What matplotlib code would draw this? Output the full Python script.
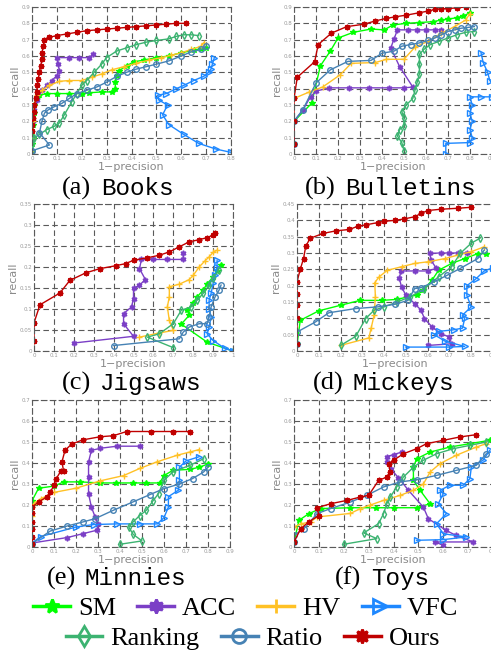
import numpy as np
import matplotlib
matplotlib.use('Agg')
import matplotlib.pyplot as plt
from matplotlib.lines import Line2D
from matplotlib.ticker import FuncFormatter

# (1-precision, recall) points

# (a) Books
books_sm = [(0, 0.02), (0, 0.06), (0.005, 0.10), (0.005, 0.18), (0.01, 0.25), (0.01, 0.30), (0.02, 0.34), (0.03, 0.36),
            (0.06, 0.37), (0.10, 0.37), (0.15, 0.37), (0.20, 0.37), (0.23, 0.375), (0.28, 0.38), (0.32, 0.38),
            (0.335, 0.40), (0.335, 0.44), (0.34, 0.48), (0.35, 0.51), (0.38, 0.54), (0.41, 0.565), (0.45, 0.575),
            (0.50, 0.59), (0.55, 0.60), (0.60, 0.62), (0.65, 0.635), (0.68, 0.645), (0.70, 0.65)]
books_acc = [(0, 0.02), (0, 0.10), (0.005, 0.20), (0.01, 0.27), (0.02, 0.33), (0.04, 0.39), (0.06, 0.42), (0.08, 0.45),
             (0.10, 0.48), (0.11, 0.51), (0.105, 0.55), (0.10, 0.59), (0.15, 0.59), (0.19, 0.59), (0.23, 0.59),
             (0.245, 0.61)]
books_hv = [(0, 0.02), (0, 0.10), (0.005, 0.20), (0.01, 0.30), (0.02, 0.36), (0.04, 0.39), (0.07, 0.42), (0.11, 0.445),
            (0.15, 0.45), (0.20, 0.45), (0.24, 0.47), (0.28, 0.49), (0.32, 0.515), (0.37, 0.535), (0.42, 0.555),
            (0.47, 0.575), (0.52, 0.59), (0.56, 0.605), (0.60, 0.62), (0.64, 0.64), (0.68, 0.66), (0.69, 0.68)]
books_vfc = [(0.80, 0.01), (0.74, 0.03), (0.67, 0.065), (0.61, 0.12), (0.55, 0.18), (0.525, 0.24), (0.545, 0.30),
             (0.51, 0.33), (0.505, 0.36), (0.54, 0.37), (0.58, 0.40), (0.61, 0.42), (0.65, 0.45), (0.69, 0.475),
             (0.71, 0.50), (0.72, 0.52), (0.725, 0.55), (0.733, 0.59)]
books_ranking = [(0, 0.02), (0, 0.06), (0.01, 0.10), (0.03, 0.12), (0.06, 0.15), (0.09, 0.17), (0.11, 0.19),
                 (0.13, 0.24), (0.16, 0.32), (0.18, 0.37), (0.20, 0.42), (0.22, 0.45), (0.25, 0.50), (0.28, 0.55),
                 (0.30, 0.59), (0.34, 0.63), (0.38, 0.65), (0.42, 0.67), (0.46, 0.685), (0.50, 0.695), (0.55, 0.705),
                 (0.58, 0.72), (0.61, 0.73), (0.64, 0.73), (0.67, 0.725)]
books_ratio = [(0, 0.02), (0.07, 0.055), (0.03, 0.13), (0.04, 0.20), (0.05, 0.25), (0.065, 0.27), (0.09, 0.29),
               (0.12, 0.31), (0.15, 0.34), (0.18, 0.37), (0.22, 0.39), (0.26, 0.41), (0.30, 0.44), (0.34, 0.475),
               (0.38, 0.50), (0.42, 0.52), (0.46, 0.535), (0.50, 0.55), (0.55, 0.57), (0.60, 0.60), (0.64, 0.625),
               (0.68, 0.64), (0.70, 0.66)]
books_ours = [(0, 0.14), (0, 0.18), (0.005, 0.22), (0.01, 0.26), (0.01, 0.30), (0.015, 0.34), (0.02, 0.38),
              (0.02, 0.42), (0.025, 0.46), (0.03, 0.50), (0.035, 0.54), (0.04, 0.58), (0.04, 0.62), (0.045, 0.66),
              (0.05, 0.70), (0.07, 0.715), (0.10, 0.725), (0.14, 0.735), (0.18, 0.745), (0.22, 0.755), (0.26, 0.76),
              (0.30, 0.765), (0.34, 0.77), (0.38, 0.775), (0.42, 0.78), (0.46, 0.785), (0.50, 0.79), (0.54, 0.795),
              (0.58, 0.80), (0.62, 0.80)]

# (b) Bulletins
bull_sm = [(0, 0.06), (0, 0.20), (0.08, 0.31), (0.12, 0.54), (0.165, 0.63), (0.20, 0.71), (0.27, 0.745), (0.35, 0.765),
           (0.41, 0.76), (0.45, 0.79), (0.51, 0.80), (0.57, 0.805), (0.63, 0.81), (0.67, 0.82), (0.70, 0.825),
           (0.74, 0.835), (0.77, 0.845), (0.80, 0.865)]
bull_acc = [(0, 0.06), (0, 0.20), (0.04, 0.27), (0.075, 0.35), (0.10, 0.385), (0.16, 0.405), (0.25, 0.405),
            (0.34, 0.405), (0.43, 0.405), (0.50, 0.405), (0.54, 0.41), (0.48, 0.535), (0.44, 0.65), (0.455, 0.705),
            (0.47, 0.76), (0.52, 0.76), (0.56, 0.76), (0.60, 0.76), (0.64, 0.76), (0.67, 0.76)]
bull_hv = [(0, 0.34), (0.07, 0.38), (0.13, 0.41), (0.21, 0.485), (0.26, 0.555), (0.37, 0.56), (0.42, 0.58),
           (0.50, 0.58), (0.55, 0.655), (0.61, 0.69), (0.67, 0.74), (0.73, 0.78), (0.78, 0.82), (0.80, 0.86)]
bull_vfc = [(0.69, 0.0), (0.69, 0.065), (0.80, 0.07), (0.81, 0.10), (0.80, 0.15), (0.81, 0.20), (0.80, 0.25),
            (0.81, 0.30), (0.80, 0.35), (0.85, 0.35), (0.90, 0.35), (0.95, 0.36), (0.92, 0.40), (0.89, 0.45),
            (0.88, 0.50), (0.86, 0.56), (0.85, 0.62)]
bull_ranking = [(0.50, 0.02), (0.49, 0.07), (0.47, 0.11), (0.48, 0.15), (0.50, 0.17), (0.50, 0.22), (0.49, 0.26),
                (0.51, 0.30), (0.54, 0.34), (0.55, 0.39), (0.56, 0.44), (0.57, 0.49), (0.57, 0.55), (0.57, 0.61),
                (0.59, 0.64), (0.62, 0.67), (0.66, 0.69), (0.70, 0.71), (0.74, 0.73), (0.78, 0.745), (0.82, 0.75)]
bull_ratio = [(0, 0.06), (0, 0.20), (0.04, 0.27), (0.10, 0.435), (0.165, 0.515), (0.245, 0.567), (0.35, 0.573),
              (0.40, 0.617), (0.455, 0.63), (0.49, 0.66), (0.53, 0.67), (0.57, 0.68), (0.61, 0.695), (0.64, 0.71),
              (0.67, 0.73), (0.70, 0.75), (0.73, 0.76), (0.76, 0.77), (0.79, 0.775), (0.82, 0.78)]
bull_ours = [(0, 0.06), (0, 0.20), (0, 0.34), (0.015, 0.47), (0.094, 0.565), (0.11, 0.67), (0.17, 0.74), (0.24, 0.78),
             (0.32, 0.795), (0.37, 0.815), (0.42, 0.83), (0.46, 0.84), (0.51, 0.85), (0.57, 0.865), (0.61, 0.875),
             (0.64, 0.885), (0.67, 0.89), (0.70, 0.89), (0.74, 0.895), (0.78, 0.90)]

# (c) Jigsaws
jig_sm = [(1.0, 0.0), (0.87, 0.021), (0.74, 0.064), (0.78, 0.085), (0.77, 0.097), (0.80, 0.115), (0.82, 0.129),
          (0.85, 0.145), (0.87, 0.16), (0.90, 0.176), (0.92, 0.19), (0.94, 0.204)]
jig_acc = [(0.20, 0.019), (0.50, 0.035), (0.45, 0.065), (0.45, 0.089), (0.49, 0.105), (0.50, 0.125), (0.50, 0.149),
           (0.53, 0.157), (0.56, 0.17), (0.53, 0.196), (0.54, 0.218), (0.60, 0.218), (0.67, 0.218), (0.75, 0.218),
           (0.75, 0.234)]
jig_hv = [(0.53, 0.033), (0.63, 0.043), (0.70, 0.049), (0.68, 0.073), (0.67, 0.105), (0.68, 0.129), (0.68, 0.153),
          (0.73, 0.159), (0.78, 0.17), (0.80, 0.18), (0.83, 0.20), (0.86, 0.215), (0.88, 0.224), (0.90, 0.235),
          (0.92, 0.24)]
jig_vfc = [(1.0, 0.0), (0.96, 0.006), (0.90, 0.025), (0.87, 0.041), (0.88, 0.057), (0.89, 0.081), (0.88, 0.10),
           (0.88, 0.121), (0.89, 0.137), (0.90, 0.161), (0.91, 0.18), (0.92, 0.20), (0.92, 0.216)]
jig_ranking = [(0.70, 0.008), (0.57, 0.033), (0.63, 0.041), (0.70, 0.065), (0.74, 0.097), (0.79, 0.105),
               (0.82, 0.121), (0.85, 0.137), (0.88, 0.157), (0.90, 0.175), (0.93, 0.192)]
jig_ratio = [(0.40, 0.013), (0.73, 0.029), (0.75, 0.045), (0.78, 0.057), (0.83, 0.065), (0.87, 0.065), (0.88, 0.081),
             (0.89, 0.105), (0.91, 0.129), (0.93, 0.145), (0.94, 0.157)]
jig_ours = [(0, 0.024), (0, 0.067), (0.03, 0.11), (0.13, 0.138), (0.18, 0.168), (0.26, 0.186), (0.33, 0.196),
            (0.41, 0.203), (0.46, 0.208), (0.50, 0.216), (0.57, 0.222), (0.63, 0.228), (0.68, 0.236), (0.73, 0.248),
            (0.78, 0.26), (0.83, 0.265), (0.87, 0.27), (0.90, 0.276), (0.91, 0.28)]

# (d) Mickeys
mick_sm = [(0, 0.02), (0.015, 0.094), (0.10, 0.123), (0.20, 0.14), (0.29, 0.155), (0.39, 0.155), (0.46, 0.158),
           (0.51, 0.166), (0.55, 0.171), (0.58, 0.186), (0.62, 0.217), (0.65, 0.247), (0.71, 0.268), (0.77, 0.283),
           (0.83, 0.298), (0.87, 0.298)]
mick_acc = [(0.60, 0.017), (0.71, 0.022), (0.70, 0.043), (0.66, 0.053), (0.62, 0.074), (0.585, 0.099), (0.57, 0.125),
            (0.54, 0.145), (0.50, 0.171), (0.48, 0.196), (0.47, 0.222), (0.477, 0.245), (0.54, 0.245), (0.60, 0.245),
            (0.64, 0.253), (0.615, 0.278), (0.61, 0.299), (0.66, 0.30), (0.70, 0.30), (0.74, 0.30), (0.78, 0.30)]
mick_hv = [(0.20, 0.017), (0.33, 0.04), (0.34, 0.069), (0.354, 0.109), (0.36, 0.166), (0.357, 0.209), (0.377, 0.227),
           (0.415, 0.247), (0.48, 0.258), (0.54, 0.268), (0.60, 0.273), (0.68, 0.283), (0.74, 0.294), (0.80, 0.304),
           (0.86, 0.319)]
mick_vfc = [(0.50, 0.012), (0.70, 0.012), (0.77, 0.014), (0.68, 0.03), (0.63, 0.05), (0.65, 0.06), (0.72, 0.065),
            (0.76, 0.07), (0.77, 0.10), (0.76, 0.11), (0.80, 0.135), (0.78, 0.17), (0.78, 0.20), (0.82, 0.22),
            (0.86, 0.245), (0.90, 0.255)]
mick_ranking = [(0.20, 0.017), (0.27, 0.045), (0.315, 0.099), (0.354, 0.125), (0.40, 0.135), (0.46, 0.15),
                (0.52, 0.166), (0.585, 0.191), (0.65, 0.227), (0.71, 0.258), (0.75, 0.299), (0.80, 0.33),
                (0.84, 0.345)]
mick_ratio = [(0, 0.02), (0, 0.058), (0.085, 0.089), (0.146, 0.117), (0.27, 0.13), (0.37, 0.135), (0.45, 0.143),
              (0.51, 0.155), (0.54, 0.191), (0.57, 0.194), (0.63, 0.212), (0.69, 0.232), (0.75, 0.253), (0.83, 0.283),
              (0.86, 0.309)]
mick_ours = [(0, 0.02), (0, 0.10), (0, 0.14), (0, 0.176), (0, 0.212), (0.015, 0.25), (0.03, 0.283), (0.04, 0.32),
             (0.06, 0.345), (0.12, 0.36), (0.18, 0.368), (0.24, 0.372), (0.28, 0.382), (0.315, 0.386), (0.37, 0.393),
             (0.40, 0.397), (0.45, 0.40), (0.49, 0.404), (0.54, 0.411), (0.57, 0.421), (0.60, 0.43), (0.66, 0.434),
             (0.74, 0.437), (0.80, 0.44)]

# (e) Minnies
minn_sm = [(0, 0.016), (0, 0.22), (0.03, 0.28), (0.10, 0.29), (0.144, 0.31), (0.22, 0.31), (0.31, 0.305),
           (0.38, 0.305), (0.46, 0.305), (0.52, 0.305), (0.58, 0.305), (0.60, 0.34), (0.64, 0.365), (0.72, 0.37),
           (0.76, 0.38), (0.80, 0.395)]
minn_acc = [(0, 0.019), (0.16, 0.045), (0.234, 0.064), (0.295, 0.08), (0.30, 0.11), (0.287, 0.143), (0.27, 0.19),
            (0.257, 0.254), (0.257, 0.334), (0.257, 0.405), (0.27, 0.46), (0.31, 0.47), (0.386, 0.48), (0.49, 0.48)]
minn_hv = [(0, 0.15), (0.008, 0.207), (0.04, 0.23), (0.10, 0.26), (0.20, 0.28), (0.31, 0.315), (0.416, 0.34),
           (0.49, 0.374), (0.567, 0.405), (0.66, 0.437), (0.72, 0.453), (0.76, 0.464)]
minn_vfc = [(0, 0.019), (0.04, 0.05), (0.20, 0.095), (0.28, 0.107), (0.386, 0.11), (0.49, 0.11), (0.57, 0.11),
            (0.60, 0.14), (0.62, 0.19), (0.62, 0.24), (0.665, 0.27), (0.67, 0.318), (0.67, 0.38), (0.70, 0.41),
            (0.76, 0.43)]
minn_ranking = [(0.40, 0.013), (0.50, 0.029), (0.46, 0.06), (0.44, 0.095), (0.46, 0.12), (0.49, 0.15), (0.52, 0.175),
                (0.55, 0.22), (0.575, 0.254), (0.60, 0.318), (0.64, 0.357), (0.72, 0.39), (0.78, 0.42)]
minn_ratio = [(0, 0.016), (0.083, 0.076), (0.16, 0.10), (0.234, 0.12), (0.287, 0.135), (0.37, 0.175), (0.46, 0.215),
              (0.537, 0.25), (0.60, 0.278), (0.67, 0.30), (0.73, 0.326), (0.78, 0.357), (0.80, 0.38)]
minn_ours = [(0, 0.016), (0, 0.048), (0, 0.087), (0, 0.12), (0, 0.16), (0, 0.19), (0.03, 0.215), (0.07, 0.24),
             (0.083, 0.26), (0.10, 0.295), (0.11, 0.325), (0.13, 0.36), (0.144, 0.36), (0.136, 0.405), (0.15, 0.46),
             (0.18, 0.49), (0.23, 0.51), (0.31, 0.525), (0.37, 0.53), (0.43, 0.55), (0.54, 0.55), (0.64, 0.55),
             (0.72, 0.55)]

# (f) Toys
toys_sm = [(0, 0.024), (0.02, 0.127), (0.06, 0.159), (0.107, 0.183), (0.227, 0.187), (0.33, 0.187), (0.40, 0.187),
           (0.493, 0.187), (0.547, 0.206), (0.507, 0.27), (0.48, 0.317), (0.48, 0.38), (0.493, 0.42), (0.547, 0.452),
           (0.627, 0.476), (0.707, 0.492), (0.787, 0.508)]
toys_acc = [(0.60, 0.008), (0.567, 0.024), (0.72, 0.024), (0.65, 0.056), (0.61, 0.08), (0.54, 0.135), (0.52, 0.19),
            (0.46, 0.27), (0.42, 0.33), (0.39, 0.37), (0.373, 0.405), (0.373, 0.43), (0.40, 0.44), (0.433, 0.452)]
toys_hv = [(0, 0.095), (0.027, 0.11), (0.067, 0.12), (0.093, 0.143), (0.227, 0.16), (0.267, 0.183), (0.307, 0.20),
           (0.36, 0.222), (0.427, 0.246), (0.48, 0.27), (0.52, 0.30), (0.547, 0.357), (0.587, 0.397), (0.653, 0.437),
           (0.733, 0.476), (0.773, 0.492)]
toys_vfc = [(0.493, 0.032), (0.60, 0.035), (0.693, 0.048), (0.60, 0.063), (0.573, 0.111), (0.613, 0.159),
            (0.58, 0.206), (0.60, 0.254), (0.587, 0.27), (0.627, 0.294), (0.68, 0.294), (0.707, 0.325),
            (0.713, 0.381), (0.76, 0.413), (0.787, 0.46)]
toys_ranking = [(0.20, 0.013), (0.333, 0.04), (0.28, 0.067), (0.34, 0.111), (0.36, 0.159), (0.373, 0.206),
                (0.387, 0.238), (0.413, 0.286), (0.44, 0.333), (0.48, 0.38), (0.52, 0.413), (0.573, 0.444),
                (0.64, 0.468), (0.707, 0.484), (0.773, 0.50)]
toys_ratio = [(0, 0.024), (0, 0.056), (0.04, 0.087), (0.093, 0.159), (0.147, 0.183), (0.227, 0.214), (0.293, 0.246),
              (0.36, 0.286), (0.427, 0.31), (0.493, 0.32), (0.573, 0.341), (0.653, 0.365), (0.733, 0.389),
              (0.773, 0.444)]
toys_ours = [(0, 0.024), (0.027, 0.087), (0.06, 0.12), (0.10, 0.15), (0.093, 0.187), (0.147, 0.206), (0.213, 0.222),
             (0.267, 0.238), (0.30, 0.246), (0.34, 0.317), (0.373, 0.333), (0.387, 0.357), (0.38, 0.397),
             (0.40, 0.413), (0.44, 0.444), (0.493, 0.468), (0.533, 0.492), (0.60, 0.508), (0.667, 0.524),
             (0.733, 0.535)]

methods = ['SM', 'ACC', 'HV', 'VFC', 'Ranking', 'Ratio', 'Ours']
colours = ['#00ff00', '#7b3fc6', '#ffc125', '#1e88ff', '#3cb371', '#4682b4', '#c00000']
markers = ['*', (6, 1, 0), '+', '>', 'd', 'o', (8, 1, 0)]
hollow = [False, False, False, True, True, True, False]

# panel: letter, name, curves, x max, y max, y step, axes box in pixels (left, top, right, bottom)
panels = [
    ('(a)', 'Books', [books_sm, books_acc, books_hv, books_vfc, books_ranking, books_ratio, books_ours],
     0.8, 0.9, 0.1, (32, 7, 231, 154)),
    ('(b)', 'Bulletins', [bull_sm, bull_acc, bull_hv, bull_vfc, bull_ranking, bull_ratio, bull_ours],
     0.9, 0.9, 0.1, (294, 7, 492, 154)),
    ('(c)', 'Jigsaws', [jig_sm, jig_acc, jig_hv, jig_vfc, jig_ranking, jig_ratio, jig_ours],
     1.0, 0.35, 0.05, (34, 204, 233, 351)),
    ('(d)', 'Mickeys', [mick_sm, mick_acc, mick_hv, mick_vfc, mick_ranking, mick_ratio, mick_ours],
     0.9, 0.45, 0.05, (297, 204, 493, 351)),
    ('(e)', 'Minnies', [minn_sm, minn_acc, minn_hv, minn_vfc, minn_ranking, minn_ratio, minn_ours],
     0.9, 0.7, 0.1, (32, 400, 230, 547)),
    ('(f)', 'Toys', [toys_sm, toys_acc, toys_hv, toys_vfc, toys_ranking, toys_ratio, toys_ours],
     0.8, 0.7, 0.1, (294, 400, 493, 547)),
]
# caption positions in pixels: x of letter, x of name, baseline y
captions = [(62, 101, 195), (305, 345, 195), (62, 100, 390), (313, 352, 390), (47, 85, 585), (335, 371, 585)]

W, H = 491, 656
fig = plt.figure(figsize=(W / 100, H / 100), dpi=100)
grid_colour = '#5a5a5a'
dash = (0, (5, 3))
fmt = FuncFormatter(lambda v, p: '{0:g}'.format(round(v, 3)))

for (letter, name, curves, xmax, ymax, ystep, box), cap in zip(panels, captions):
    l, t, r, b = box
    ax = fig.add_axes([l / W, 1 - b / H, (r - l) / W, (b - t) / H])
    for pts, c, m, h in zip(curves, colours, markers, hollow):
        xs = [p[0] for p in pts]
        ys = [p[1] for p in pts]
        ax.plot(xs, ys, color=c, lw=1.0, marker=m, markersize=4,
                markerfacecolor='none' if h else c, markeredgecolor=c, markeredgewidth=1.0)
    ax.set_xlim(0, xmax)
    ax.set_ylim(0, ymax)
    ax.set_xticks(np.arange(0, xmax + 1e-6, 0.1))
    ax.set_yticks(np.arange(0, ymax + 1e-6, ystep))
    ax.xaxis.set_major_formatter(fmt)
    ax.yaxis.set_major_formatter(fmt)
    ax.grid(True, ls=dash, color=grid_colour, lw=0.8)
    ax.set_axisbelow(True)
    for s in ax.spines.values():
        s.set_linestyle(dash)
        s.set_color(grid_colour)
        s.set_linewidth(0.8)
    ax.tick_params(labelsize=4, labelcolor='#9a9a9a', length=2, width=0.6, direction='in',
                   color=grid_colour, pad=1.5)
    ax.set_xlabel('1\u2212precision', fontsize=8, color='#8a8a8a', labelpad=1)
    ax.set_ylabel('recall', fontsize=8, color='#8a8a8a', labelpad=1)
    fig.text(cap[0] / W, 1 - cap[2] / H, letter, family='Liberation Serif', fontsize=19, va='baseline')
    fig.text(cap[1] / W, 1 - cap[2] / H, name, family='Liberation Mono', fontsize=17.5, va='baseline')

handles = []
for name, c, m, h in zip(methods, colours, markers, hollow):
    handles.append(Line2D([], [], color=c, lw=2.5, marker=m, markersize=10,
                          markerfacecolor='none' if h else c, markeredgecolor=c, markeredgewidth=2))
leg_style = dict(loc='center', frameon=False, prop={'family': 'Liberation Serif', 'size': 19},
                 handlelength=1.4, handletextpad=0.3, columnspacing=0.8, borderpad=0, borderaxespad=0)
fig.legend(handles[:4], methods[:4], bbox_to_anchor=(0.5, 1 - 608 / H), ncol=4, **leg_style)
fig.legend(handles[4:], methods[4:], bbox_to_anchor=(0.515, 1 - 638 / H), ncol=3, **leg_style)

plt.savefig('out.png', dpi=100)
print('done out.png')
